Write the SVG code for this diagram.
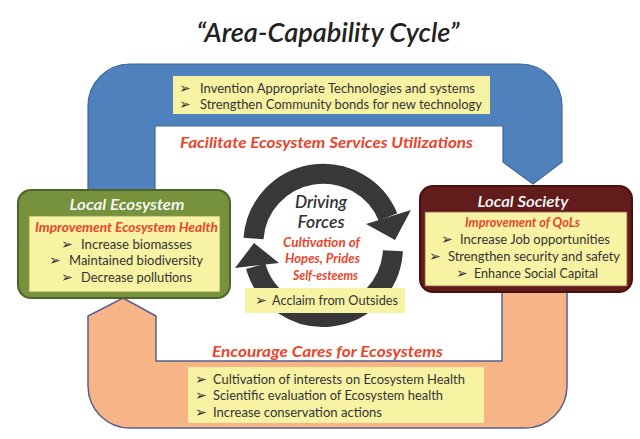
<svg xmlns="http://www.w3.org/2000/svg" width="640" height="439" viewBox="0 0 640 439">
<defs>
<style>
text{font-family:Lato,"Liberation Sans",sans-serif}
.ttl{font-size:26px;font-style:italic;font-weight:600;fill:#222}
.body{font-size:12.5px;fill:#333}
.red{font-weight:bold;font-style:italic;fill:#e8452c}
.hd{font-size:15px}
.sub{font-size:13px}
.wt{font-size:15px;font-style:italic;font-weight:600;fill:#fff}
.bul{font-family:"DejaVu Sans",sans-serif;font-size:14px;font-weight:bold;fill:#333}
.yel{fill:#f8f3a3}
.ring{fill:none;stroke:#383838;stroke-width:20}
.dk{fill:#383838}
</style>
</defs>
<rect width="640" height="439" fill="#fff"/>
<g id="title"><text class="ttl" x="328" y="42" text-anchor="middle" textLength="263" lengthAdjust="spacingAndGlyphs">“Area-Capability Cycle”</text></g>

<g id="connectors">
<path id="blue-band" d="M88 193 L88 106 A42 42 0 0 1 130 64 L520 64 A42 42 0 0 1 562 106 L562 162 L533 184 L503 162 L503 126 L155 126 L155 193 Z" fill="#4f81bd" stroke="#3f6797" stroke-width="1.2"/>
<path id="orange-band" d="M123 298 L156 316 L156 361 L502 361 L502 291 L567 291 L567 386 A42 42 0 0 1 525 428 L130 428 A42 42 0 0 1 88 386 L88 316 Z" fill="#f6b487" stroke="#55608e" stroke-width="1.5"/>
</g>

<g id="label-facilitate">
<rect class="yel" x="173" y="76" width="317" height="38"/>
<text class="bul" x="179" y="93">➢</text>
<text class="body" x="200" y="93" textLength="275" lengthAdjust="spacingAndGlyphs">Invention Appropriate Technologies  and systems</text>
<text class="bul" x="179" y="109">➢</text>
<text class="body" x="200" y="109" textLength="282" lengthAdjust="spacingAndGlyphs">Strengthen Community bonds for new technology</text>
<text class="red hd" x="180" y="148" textLength="293" lengthAdjust="spacingAndGlyphs">Facilitate Ecosystem Services Utilizations</text>
</g>

<g id="label-encourage">
<text class="red hd" x="212" y="357" textLength="231" lengthAdjust="spacingAndGlyphs">Encourage Cares for Ecosystems</text>
<rect class="yel" x="188" y="367" width="296" height="56"/>
<text class="bul" x="195" y="384">➢</text>
<text class="body" x="213" y="384" textLength="252" lengthAdjust="spacingAndGlyphs">Cultivation of  interests on Ecosystem Health</text>
<text class="bul" x="195" y="400">➢</text>
<text class="body" x="213" y="400" textLength="230" lengthAdjust="spacingAndGlyphs">Scientific evaluation of Ecosystem health</text>
<text class="bul" x="195" y="417">➢</text>
<text class="body" x="213" y="417" textLength="169" lengthAdjust="spacingAndGlyphs">Increase conservation actions</text>
</g>

<g id="node-local-ecosystem">
<rect x="18" y="190" width="212" height="108" rx="13" fill="#76923c" stroke="#4f6228" stroke-width="2"/>
<rect class="yel" x="29" y="216" width="191" height="76" stroke="#8a9a50" stroke-width="0.8"/>
<text class="wt" x="127" y="210" text-anchor="middle" textLength="115" lengthAdjust="spacingAndGlyphs">Local Ecosystem</text>
<text class="red sub" x="35" y="232" textLength="183" lengthAdjust="spacingAndGlyphs">Improvement Ecosystem Health</text>
<text class="bul" x="61" y="249">➢</text>
<text class="body" x="81" y="249" textLength="111" lengthAdjust="spacingAndGlyphs">Increase biomasses</text>
<text class="bul" x="49" y="265">➢</text>
<text class="body" x="69" y="265" textLength="134" lengthAdjust="spacingAndGlyphs">Maintained biodiversity</text>
<text class="bul" x="61" y="282">➢</text>
<text class="body" x="81" y="282" textLength="111" lengthAdjust="spacingAndGlyphs">Decrease pollutions</text>
</g>

<g id="node-local-society">
<rect x="420" y="186" width="212" height="106" rx="13" fill="#631c1c" stroke="#4a1010" stroke-width="2"/>
<rect class="yel" x="425" y="212" width="202" height="74" stroke="#8a5a4a" stroke-width="0.8"/>
<text class="wt" x="523" y="207" text-anchor="middle" textLength="91" lengthAdjust="spacingAndGlyphs">Local Society</text>
<text class="red sub" x="465" y="227" textLength="115" lengthAdjust="spacingAndGlyphs">Improvement of QoLs</text>
<text class="bul" x="441" y="244">➢</text>
<text class="body" x="460" y="244" textLength="150" lengthAdjust="spacingAndGlyphs">Increase Job opportunities</text>
<text class="bul" x="429" y="261">➢</text>
<text class="body" x="448" y="261" textLength="172" lengthAdjust="spacingAndGlyphs">Strengthen security and safety</text>
<text class="bul" x="456" y="278">➢</text>
<text class="body" x="474" y="278" textLength="124" lengthAdjust="spacingAndGlyphs">Enhance Social Capital</text>
</g>

<g id="node-driving-forces">
<path class="ring" d="M253.5 238.5 A70 70 0 0 1 388 217"/>
<polygon class="dk" points="366,224 411,210 395,240"/>
<path class="ring" d="M392.9 250.7 A70 70 0 0 1 255.7 266.3"/>
<polygon class="dk" points="235,268 279,263 254,243"/>
<text x="321" y="208" text-anchor="middle" font-size="17" font-style="italic" font-weight="600" fill="#333" textLength="52" lengthAdjust="spacingAndGlyphs">Driving</text>
<text x="321" y="228" text-anchor="middle" font-size="17" font-style="italic" font-weight="600" fill="#333" textLength="47" lengthAdjust="spacingAndGlyphs">Forces</text>
<text class="red sub" x="321.5" y="247" text-anchor="middle" textLength="77" lengthAdjust="spacingAndGlyphs">Cultivation of</text>
<text class="red sub" x="322.5" y="263" text-anchor="middle" textLength="75" lengthAdjust="spacingAndGlyphs">Hopes, Prides</text>
<text class="red sub" x="325.5" y="280" text-anchor="middle" textLength="65" lengthAdjust="spacingAndGlyphs">Self-esteems</text>
</g>

<g id="label-acclaim">
<rect class="yel" x="245" y="288" width="160" height="25"/>
<text class="bul" x="255" y="305">➢</text>
<text class="body" x="272" y="305" textLength="126" lengthAdjust="spacingAndGlyphs">Acclaim from Outsides</text>
</g>
</svg>
